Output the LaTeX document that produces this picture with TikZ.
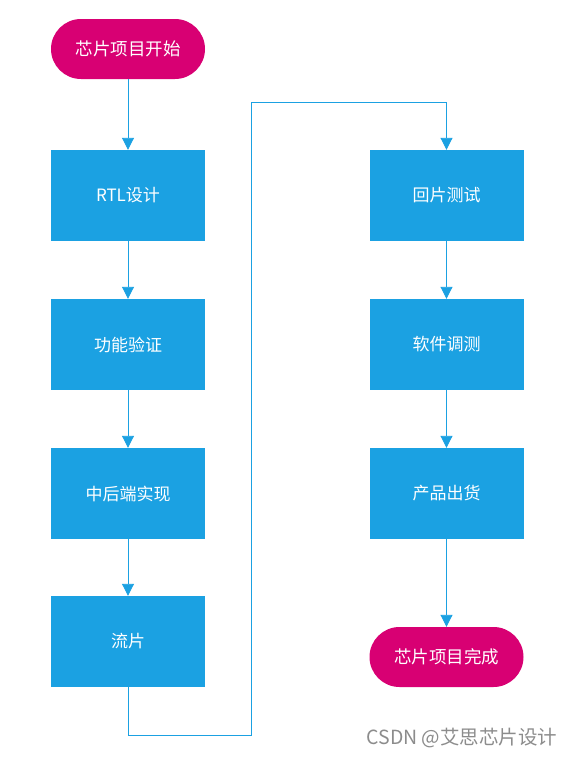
\documentclass[tikz,border=0pt]{standalone}
\usepackage{fontspec}
\setmainfont{Noto Sans CJK SC}
\usetikzlibrary{arrows.meta}
\definecolor{boxblue}{HTML}{1BA1E2}
\definecolor{pillred}{HTML}{D80073}
\begin{document}
\begin{tikzpicture}[x=1pt,y=-1pt,
  stepbox/.style={fill=boxblue, draw=none, minimum width=154pt, minimum height=91pt, inner sep=0pt, text=white, font=\fontsize{17}{20}\selectfont},
  pill/.style={fill=pillred, draw=none, rounded corners=30pt, minimum width=154pt, minimum height=60pt, inner sep=0pt, text=white, font=\fontsize{17.5}{20}\selectfont},
  conn/.style={draw=boxblue, line width=0.9pt, -{Triangle[length=12pt,width=12pt]}},
  plain/.style={draw=boxblue, line width=0.9pt}]
\useasboundingbox (0,0) rectangle (573,758);
\node[pill] (start) at (128,49) {芯片项目开始};
\node[stepbox] (rtl) at (128,195.5) {RTL设计};
\node[stepbox] (func) at (128,344.5) {功能验证};
\node[stepbox] (be) at (128,493.5) {中后端实现};
\node[stepbox] (tape) at (128,641.5) {流片};
\node[stepbox] (back) at (446.5,195.5) {回片测试};
\node[stepbox] (soft) at (446.5,344.5) {软件调测};
\node[stepbox] (ship) at (446.5,493.5) {产品出货};
\node[pill] (done) at (446.5,657) {芯片项目完成};
\coordinate (c1) at (128,735);
\coordinate (c2) at (251,735);
\coordinate (c3) at (251,102);
\coordinate (c4) at (446.5,102);
\draw[conn] (start) -- (rtl);
\draw[conn] (rtl) -- (func);
\draw[conn] (func) -- (be);
\draw[conn] (be) -- (tape);
\draw[conn] (tape.south) -- (c1) -- (c2) -- (c3) -- (c4) -- (back.north);
\draw[conn] (back) -- (soft);
\draw[conn] (soft) -- (ship);
\draw[conn] (ship) -- (done);
\node[text=black!45, font=\fontsize{19.5}{22}\selectfont, anchor=center] (wm) at (462,738) {CSDN @艾思芯片设计};
\end{tikzpicture}
\end{document}
